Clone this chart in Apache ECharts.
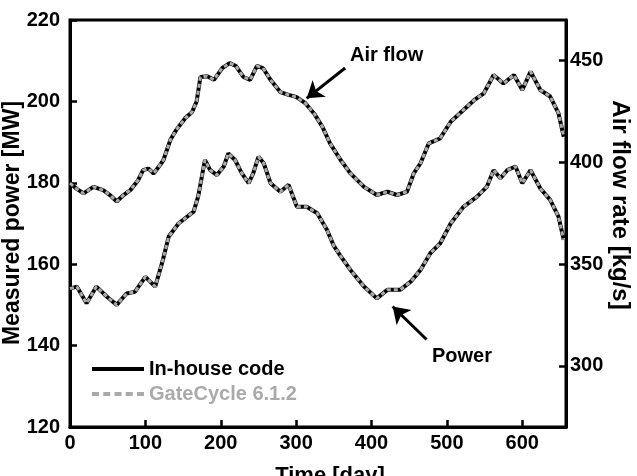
<!DOCTYPE html>
<html>
<head>
<meta charset="utf-8">
<script src="https://cdn.jsdelivr.net/npm/echarts@6/dist/echarts.min.js"></script>
<style>
  html, body { margin: 0; padding: 0; background: #fff; }
  #chart { width: 637px; height: 476px; }
</style>
</head>
<body>
<div id="chart"></div>
<script>
// power [MW], left axis
var powerDays = [0, 9, 22, 35, 49, 62, 75, 86, 100, 113, 122, 131, 144, 164, 170, 179, 186, 195, 204, 210,
  219, 228, 237, 243, 250, 257, 266, 279, 290, 301, 314, 328, 341, 350, 359, 372, 390, 407, 421, 438,
  452, 465, 478, 491, 505, 522, 540, 553, 562, 571, 580, 591, 600, 611, 624, 637, 648, 655];
var powerMW = [154, 154.5, 150.4, 154.5, 152.0, 150.0, 152.8, 153.2, 156.9, 154.5, 160.2, 166.8, 170.0, 172.9, 176.6, 185.6, 183.1, 181.9, 184.0, 187.2,
  185.6, 182.3, 179.9, 182.3, 186.4, 184.8, 179.9, 177.8, 179.5, 174.1, 174.1, 172.5, 168.4, 164.5, 162.0, 158.6, 154.5, 151.6, 153.7, 153.7,
  155.7, 158.6, 162.7, 165.1, 170.0, 174.1, 176.6, 179.0, 183.1, 181.1, 183.1, 184.0, 179.9, 183.1, 178.6, 175.8, 171.7, 166.0];

// air flow rate [kg/s], right axis
var airDays = [0, 9, 18, 31, 44, 53, 62, 71, 80, 90, 97, 104, 111, 118, 124, 133, 141, 153, 162, 168,
  173, 182, 191, 202, 212, 220, 230, 239, 248, 256, 266, 279, 290, 300, 312, 325, 335, 345, 359, 372,
  390, 407, 421, 434, 447, 456, 465, 476, 491, 505, 522, 536, 549, 562, 575, 589, 600, 611, 624, 637, 648, 655];
var airFlow = [389.8, 387, 384.8, 388, 386.4, 384, 380.8, 384, 386.4, 391, 396.2, 397, 394.6, 398, 401.2, 411, 416, 421.8, 424.8, 430,
  442, 442.4, 440.6, 446.4, 448.8, 447.4, 442, 440.6, 447.4, 446.4, 440.6, 434.6, 433.2, 432.2, 429.2, 423.4, 417.4, 409.4, 401.2, 394.6,
  388, 384, 385.6, 384, 385.6, 394.6, 399.6, 409.4, 411.8, 420, 425.8, 430.6, 434, 443, 438.8, 443, 435.6, 444.6, 435.6, 432.4, 424.2, 412.6];

var xTicks = [0, 100, 200, 300, 400, 500, 600];
var leftTicks = [120, 140, 160, 180, 200, 220];
var rightTicks = [300, 350, 400, 450];

function pairs(xs, ys) {
  return xs.map(function (x, i) { return [x, ys[i]]; });
}

var FONT = '"Liberation Sans", Arial, sans-serif';
var chart = echarts.init(document.getElementById('chart'));

var axisCommon = {
  axisLine: { show: true, lineStyle: { color: '#000', width: 3 } },
  axisTick: { show: true, inside: true, length: 7, lineStyle: { color: '#000', width: 2.5 } },
  splitLine: { show: false },
  axisLabel: { color: '#000', fontSize: 20, fontWeight: 'bold', fontFamily: FONT }
};

var arrowLine = {
  silent: true, symbol: ['none', 'arrow'], symbolSize: 16,
  lineStyle: { color: '#000', width: 3, type: 'solid' }, itemStyle: { color: '#000' },
  label: { show: false }, emphasis: { disabled: true }
};

// legend icons: plain bar and a dashed bar (no marker dots)
var solidIcon = 'path://M0,0H52V4H0Z';
var dashIcon = 'path://M0,0h7v4h-7z M11.25,0h7v4h-7z M22.5,0h7v4h-7z M33.75,0h7v4h-7z M45,0h7v4h-7z';

var option = {
  animation: false,
  textStyle: { fontFamily: FONT },
  grid: { left: 70, top: 20, right: 71, bottom: 49, outerBoundsMode: 'none', containLabel: false,
    show: true, borderColor: '#000', borderWidth: 3 },
  xAxis: {
    type: 'value', min: 0, max: 658,
    name: 'Time [day]', nameLocation: 'middle', nameGap: 38,
    nameTextStyle: { color: '#000', fontSize: 22, fontWeight: 'bold', padding: [0, 0, 0, 24] },
    axisLine: axisCommon.axisLine,
    axisTick: Object.assign({}, axisCommon.axisTick, { customValues: xTicks }),
    splitLine: axisCommon.splitLine,
    axisLabel: Object.assign({}, axisCommon.axisLabel, { margin: 6, customValues: xTicks })
  },
  yAxis: [{
    type: 'value', min: 120, max: 220, position: 'left',
    axisLine: axisCommon.axisLine,
    axisTick: Object.assign({}, axisCommon.axisTick, { customValues: leftTicks }),
    splitLine: axisCommon.splitLine,
    axisLabel: Object.assign({}, axisCommon.axisLabel, { margin: 10, customValues: leftTicks })
  }, {
    type: 'value', min: 270, max: 470, position: 'right',
    axisLine: axisCommon.axisLine,
    axisTick: Object.assign({}, axisCommon.axisTick, { customValues: rightTicks }),
    splitLine: axisCommon.splitLine,
    axisLabel: Object.assign({}, axisCommon.axisLabel, { margin: 4, customValues: rightTicks })
  }],
  legend: {
    left: 87, top: 354, orient: 'vertical', itemWidth: 52, itemHeight: 14, itemGap: 5,
    textStyle: { fontSize: 20, fontWeight: 'bold', color: '#000' },
    data: [
      { name: 'In-house code', icon: solidIcon },
      { name: 'GateCycle 6.1.2', icon: dashIcon, textStyle: { color: '#aaa' } }
    ]
  },
  graphic: [
    { type: 'text', left: 350, top: 45, style: { text: 'Air flow', font: 'bold 20px ' + FONT, fill: '#000' } },
    { type: 'text', left: 432, top: 346, style: { text: 'Power', font: 'bold 20px ' + FONT, fill: '#000' } },
    { type: 'text', x: 13, y: 223, rotation: Math.PI / 2,
      style: { text: 'Measured power [MW]', font: 'bold 23px ' + FONT, fill: '#000', align: 'center', verticalAlign: 'middle' } },
    { type: 'text', x: 620, y: 205, rotation: -Math.PI / 2,
      style: { text: 'Air flow rate [kg/s]', font: 'bold 24px ' + FONT, fill: '#000', align: 'center', verticalAlign: 'middle' } }
  ],
  series: [{
    name: 'In-house code', type: 'line', yAxisIndex: 0, showSymbol: false, symbol: 'none',
    lineStyle: { color: '#000', width: 4 }, itemStyle: { color: '#000' },
    data: pairs(powerDays, powerMW),
    markLine: Object.assign({}, arrowLine, { data: [[{ coord: [473, 141.5] }, { coord: [428, 149.6] }]] })
  }, {
    name: 'In-house code', type: 'line', yAxisIndex: 1, showSymbol: false, symbol: 'none',
    lineStyle: { color: '#000', width: 4 }, itemStyle: { color: '#000' },
    data: pairs(airDays, airFlow),
    markLine: Object.assign({}, arrowLine, { data: [[{ coord: [365, 446.4] }, { coord: [314, 431.5] }]] })
  }, {
    name: 'GateCycle 6.1.2', type: 'line', yAxisIndex: 0, showSymbol: false, symbol: 'none',
    lineStyle: { color: '#aaa', width: 3, type: [4, 3] }, itemStyle: { color: '#aaa' },
    data: pairs(powerDays, powerMW)
  }, {
    name: 'GateCycle 6.1.2', type: 'line', yAxisIndex: 1, showSymbol: false, symbol: 'none',
    lineStyle: { color: '#aaa', width: 3, type: [4, 3] }, itemStyle: { color: '#aaa' },
    data: pairs(airDays, airFlow)
  }]
};

chart.setOption(option);
</script>
</body>
</html>
